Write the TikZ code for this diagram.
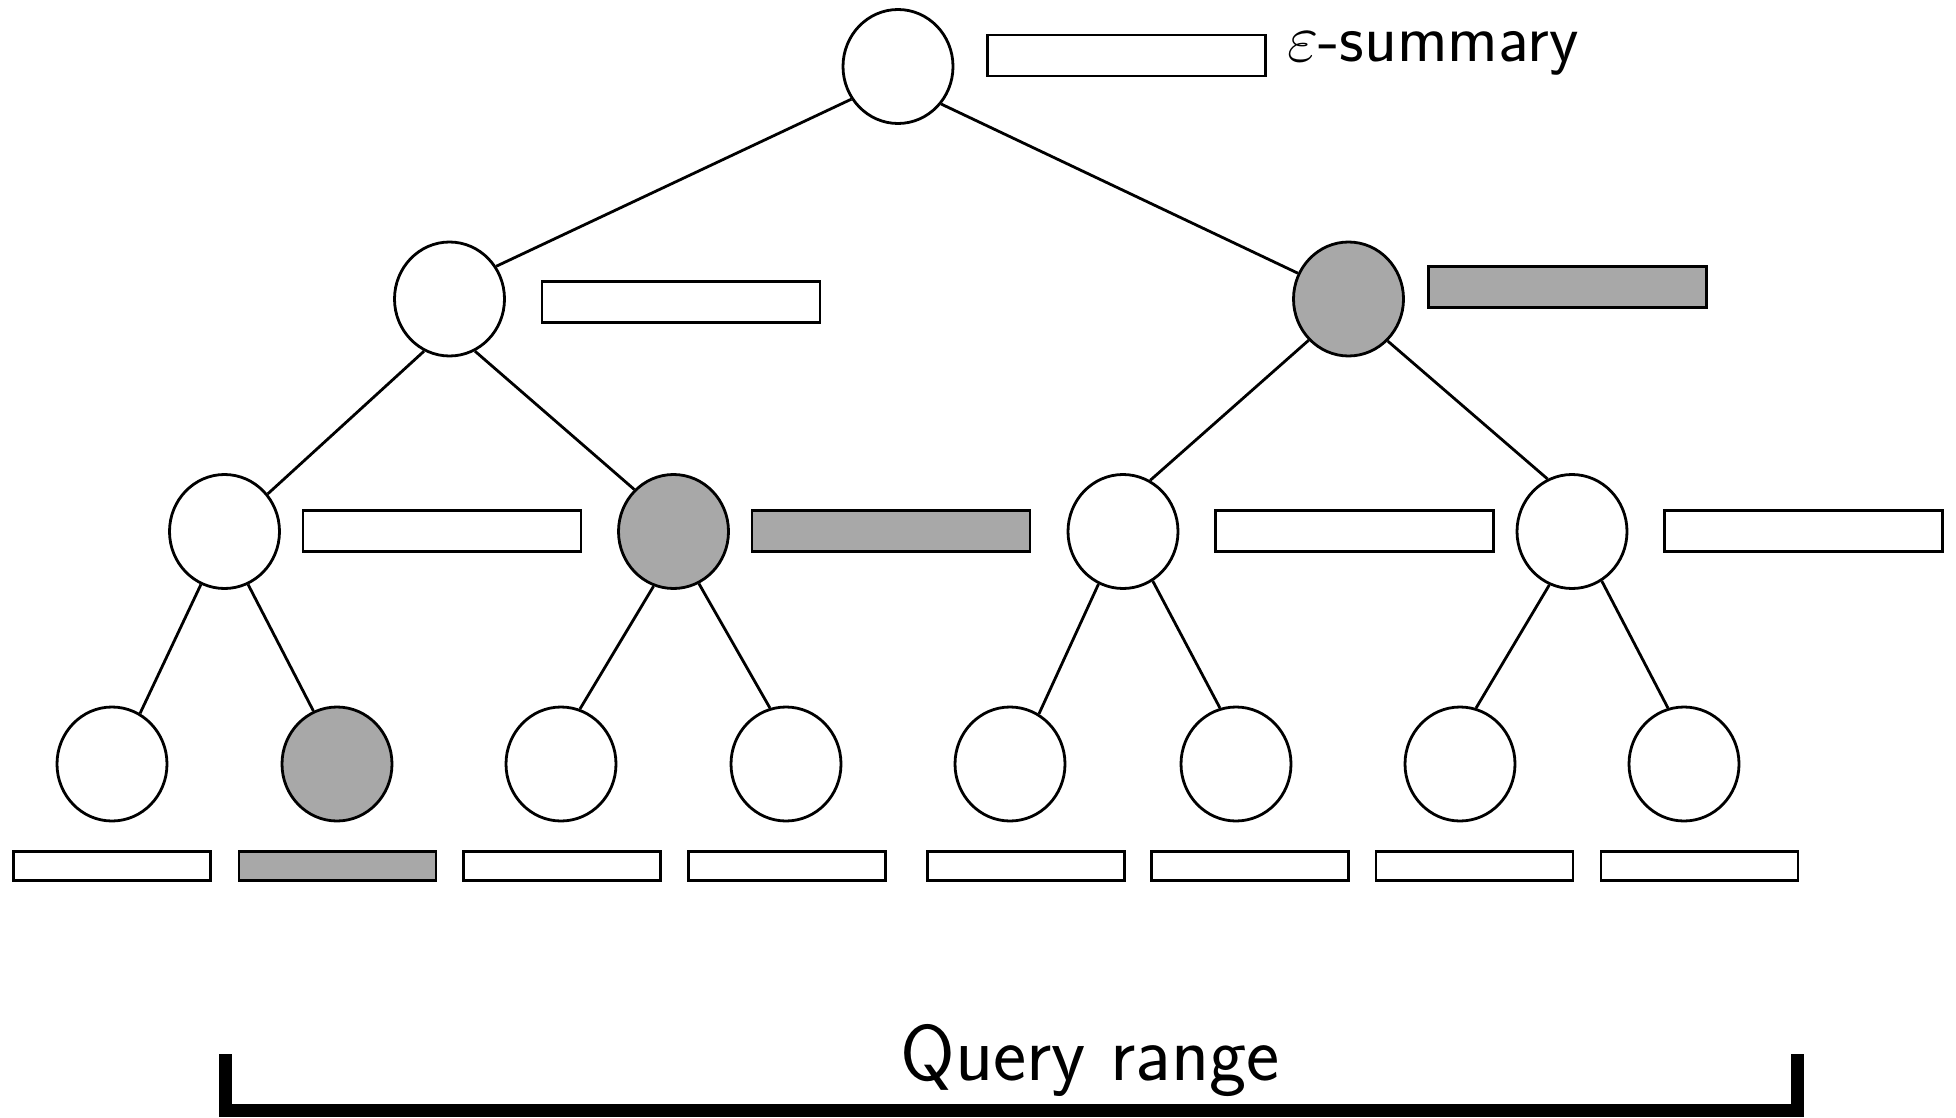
\RequirePackage{fix-cm}
\documentclass[tikz,border=0pt]{standalone}
\usetikzlibrary{shapes.geometric}
\definecolor{hitgray}{RGB}{168,168,168}
\begin{document}
\begin{tikzpicture}[x=1pt,y=-1pt,
  treenode/.style={ellipse, draw, line width=2.8pt, minimum width=110pt,
                   minimum height=114pt, inner sep=0pt, fill=white},
  hit/.style={fill=hitgray},
  summ/.style={rectangle, draw, line width=2.8pt, inner sep=0pt,
               minimum width=278pt, minimum height=41pt, fill=white},
  leafsumm/.style={rectangle, draw, line width=2.8pt, inner sep=0pt,
                   minimum width=197pt, minimum height=29pt, fill=white},
  link/.style={line width=2.8pt},
  bracket/.style={line width=13pt, line join=miter},
]
\useasboundingbox (0,0) rectangle (1956,1118);

% tree nodes
\node[treenode] (r)  at (898,66.5) {};
\node[treenode] (a)  at (449.5,299) {};
\node[treenode,hit] (b)  at (1348.5,299) {};
\node[treenode] (aa) at (224.5,531.5) {};
\node[treenode,hit] (ab) at (673.5,531.5) {};
\node[treenode] (ba) at (1123,531.5) {};
\node[treenode] (bb) at (1572,531.5) {};
\node[treenode] (l1) at (112,764) {};
\node[treenode,hit] (l2) at (337,764) {};
\node[treenode] (l3) at (561,764) {};
\node[treenode] (l4) at (786,764) {};
\node[treenode] (l5) at (1010,764) {};
\node[treenode] (l6) at (1236,764) {};
\node[treenode] (l7) at (1460,764) {};
\node[treenode] (l8) at (1684,764) {};

% tree edges, attached at fixed points of the borders
\draw[link] (r.215)  -- (a.35);
\draw[link] (r.-41)  -- (b.153.5);
\draw[link] (a.-116) -- (aa.41);
\draw[link] (a.-64)  -- (ab.133);
\draw[link] (b.-134) -- (ba.62);
\draw[link] (b.-47)  -- (bb.115);
\draw[link] (aa.-114) -- (l1.61);
\draw[link] (aa.-66)  -- (l2.114);
\draw[link] (ab.-110) -- (l3.71);
\draw[link] (ab.-64)  -- (l4.106);
\draw[link] (ba.-115) -- (l5.60);
\draw[link] (ba.-59)  -- (l6.106);
\draw[link] (bb.-113) -- (l7.74);
\draw[link] (bb.-59)  -- (l8.106);

% summaries of the inner nodes
\node[summ] (sr)  at (1126.5,55.5) {};
\node[summ] (sa)  at (681,302) {};
\node[summ,hit] (sb)  at (1567.5,287) {};
\node[summ] (saa) at (442,531) {};
\node[summ,hit] (sab) at (891,531) {};
\node[summ] (sba) at (1354.5,531) {};
\node[summ] (sbb) at (1803.5,531) {};

% summaries of the leaves
\node[leafsumm] (s1) at (112,866) {};
\node[leafsumm,hit] (s2) at (337.5,866) {};
\node[leafsumm] (s3) at (562,866) {};
\node[leafsumm] (s4) at (787,866) {};
\node[leafsumm] (s5) at (1026,866) {};
\node[leafsumm] (s6) at (1250,866) {};
\node[leafsumm] (s7) at (1474.5,866) {};
\node[leafsumm] (s8) at (1699.5,866) {};

% label
\node[anchor=base west, inner sep=0pt, font=\fontsize{68}{76}\selectfont\sffamily]
  (lbl) at (1287,62) {$\varepsilon$-summary};

% query range bracket
\coordinate (qtl) at (225,1054);
\coordinate (qbl) at (225,1110);
\coordinate (qbr) at (1797,1110);
\coordinate (qtr) at (1797,1054);
\draw[bracket] (qtl) -- (qbl) -- (qbr) -- (qtr);
\node[anchor=base, inner sep=0pt, font=\fontsize{79}{88}\selectfont\sffamily]
  (qlbl) at (1090,1080) {Query range};
\end{tikzpicture}
\end{document}
